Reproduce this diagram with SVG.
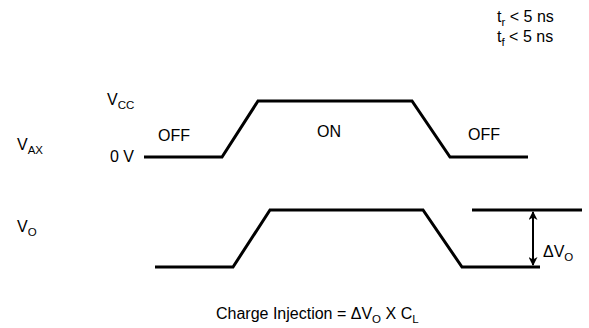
<svg xmlns="http://www.w3.org/2000/svg" width="589" height="328" viewBox="0 0 589 328">
<style>
text{font-family:"Liberation Sans",Arial,sans-serif;font-size:16px;fill:#000}
.sub{font-size:11.5px}
.wave{fill:none;stroke:#000;stroke-width:3;stroke-linejoin:miter}
.dim{fill:none;stroke:#000;stroke-width:2}
</style>
<defs>
<marker id="ah" viewBox="0 0 10 10" refX="9" refY="5" markerWidth="5" markerHeight="4.5" orient="auto-start-reverse" markerUnits="strokeWidth">
<path d="M0,0 L10,5 L0,10 L3,5 Z" fill="#000"/>
</marker>
</defs>
<g id="timing-note">
<text x="497" y="22">t<tspan class="sub" dy="4">r</tspan><tspan dy="-4"> &lt; 5 ns</tspan></text>
<text x="497" y="42">t<tspan class="sub" dy="4">f</tspan><tspan dy="-4"> &lt; 5 ns</tspan></text>
</g>
<g id="vax-labels">
<text x="107" y="105">V<tspan class="sub" dy="4">CC</tspan></text>
<text x="17" y="150">V<tspan class="sub" dy="4">AX</tspan></text>
<text x="110" y="162">0 V</text>
<text x="158" y="141">OFF</text>
<text x="317" y="137">ON</text>
<text x="468" y="140">OFF</text>
</g>
<g id="vo-labels">
<text x="17" y="232">V<tspan class="sub" dy="4">O</tspan></text>
<text x="543" y="257">ΔV<tspan class="sub" dy="4">O</tspan></text>
</g>
<g id="connectors">
<polyline id="vax-wave" class="wave" points="144,157 222,157 258,101 412,101 450,157 528,157"/>
<polyline id="vo-wave" class="wave" points="155,267 233,267 270,210 423,210 462,267 540,267"/>
<line id="vo-ref" class="wave" x1="472" y1="210" x2="582" y2="210"/>
<line id="delta-arrow" class="dim" x1="533" y1="212" x2="533" y2="265" marker-start="url(#ah)" marker-end="url(#ah)"/>
</g>
<g id="formula">
<text x="216" y="319">Charge Injection = ΔV<tspan class="sub" dy="4">O</tspan><tspan dy="-4"> X C</tspan><tspan class="sub" dy="4">L</tspan></text>
</g>
</svg>
